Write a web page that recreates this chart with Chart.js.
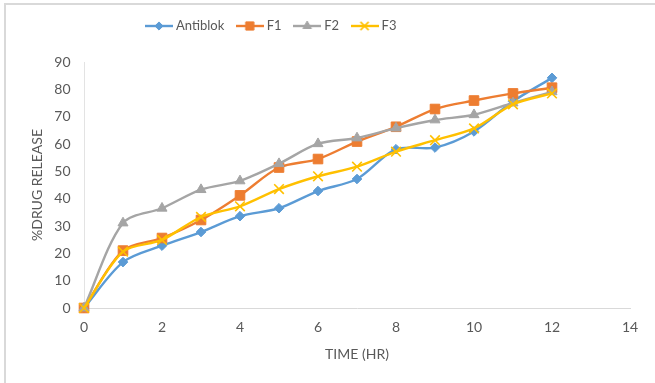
<!DOCTYPE html>
<html>
<head>
<meta charset="utf-8">
<script src="https://cdn.jsdelivr.net/npm/chart.js@4/dist/chart.umd.min.js"></script>
<style>
  html, body { margin: 0; padding: 0; background: #fff; overflow: hidden; }
  #frame { position: absolute; left: 4px; top: 3px; width: 700px; height: 420px;
           border-left: 2px solid #D9D9D9; border-top: 2px solid #D9D9D9; }
  #wrap { position: absolute; left: 0; top: 0; width: 655px; height: 383px; }
</style>
</head>
<body>
<div id="frame"></div>
<div id="wrap"><canvas id="c" width="655" height="383"></canvas></div>
<script>
// Time points (hours) and cumulative drug release (%) for each formulation
const hours    = [0, 1, 2, 3, 4, 5, 6, 7, 8, 9, 10, 11, 12];
const antiblok = [0, 16.8, 22.8, 27.8, 33.6, 36.5, 42.8, 47.2, 58.1, 58.7, 64.6, 75.6, 84.2];
const f1       = [0, 21.0, 25.6, 32.2, 41.2, 51.4, 54.5, 60.9, 66.3, 72.8, 75.9, 78.5, 80.6];
const f2       = [0, 31.1, 36.5, 43.3, 46.5, 52.8, 60.1, 62.2, 65.8, 68.8, 70.7, 75.0, 79.1];
const f3       = [0, 20.6, 24.9, 33.3, 37.2, 43.5, 48.2, 51.7, 57.2, 61.4, 65.7, 74.5, 78.5];

const seriesNames = ['Antiblok', 'F1', 'F2', 'F3'];
const xTicks = [0, 2, 4, 6, 8, 10, 12, 14];
const yTicks = [0, 10, 20, 30, 40, 50, 60, 70, 80, 90];

const colors = ['#5B9BD5', '#ED7D31', '#A5A5A5', '#FFC000'];
const styles = [
  { pointStyle: 'rectRot',  radius: 4.8, borderWidth: 1 },
  { pointStyle: 'rect',     radius: 6.8, borderWidth: 1 },
  { pointStyle: 'triangle', radius: 5.8, borderWidth: 1 },
  { pointStyle: 'crossRot', radius: 6.8, borderWidth: 1.6 }
];
const values = [antiblok, f1, f2, f3];

const FONT = "Lato, 'Open Sans', sans-serif";
const TEXT = '#595959';

// Small line-with-marker swatches for the legend
function swatch(color, st) {
  const c = document.createElement('canvas');
  c.width = 28; c.height = 14;
  const ctx = c.getContext('2d');
  ctx.strokeStyle = color;
  ctx.lineWidth = 2.4;
  ctx.beginPath(); ctx.moveTo(0, 7); ctx.lineTo(28, 7); ctx.stroke();
  ctx.fillStyle = color;
  ctx.lineWidth = st.borderWidth;
  Chart.helpers.drawPoint(ctx, { pointStyle: st.pointStyle, radius: st.radius * 0.85,
                                 borderWidth: st.borderWidth, rotation: 0 }, 14, 7);
  return c;
}
const swatches = colors.map((c, i) => swatch(c, styles[i]));

const datasets = seriesNames.map((name, i) => ({
  label: name,
  data: hours.map((h, k) => ({ x: h, y: values[i][k] })),
  borderColor: colors[i],
  backgroundColor: colors[i],
  borderWidth: 2.4,
  tension: 0.3,
  pointStyle: styles[i].pointStyle,
  pointRadius: styles[i].radius,
  pointHoverRadius: styles[i].radius,
  pointBorderWidth: styles[i].borderWidth,
  pointBorderColor: colors[i],
  pointBackgroundColor: colors[i],
  order: seriesNames.length - i,
  clip: false
}));

// Legend band height and horizontal start
const LEGEND_BAND = 57.5;
const LEGEND_LEFT = 133.5;
const legendBand = {
  id: 'legendBand',
  beforeUpdate(chart) {
    const lg = chart.legend;
    if (lg && !lg.__band) {
      const fit = lg.fit;
      lg.fit = function () { fit.call(this); this.height = LEGEND_BAND; };
      lg.__band = true;
    }
  },
  afterLayout(chart) {
    if (chart.legend) chart.legend.left = LEGEND_LEFT;
  }
};

new Chart(document.getElementById('c'), {
  type: 'line',
  data: { datasets },
  plugins: [legendBand],
  options: {
    responsive: false,
    animation: false,
    events: [],
    layout: { padding: { top: 4.5, left: 5, right: 25, bottom: 0 } },
    plugins: {
      tooltip: { enabled: false },
      legend: {
        position: 'top',
        align: 'start',
        labels: {
          usePointStyle: true,
          pointStyleWidth: 21,
          padding: 15,
          font: { family: FONT, size: 13 },
          color: TEXT,
          generateLabels(chart) {
            return chart.data.datasets.map((ds, i) => ({
              text: ds.label,
              datasetIndex: i,
              pointStyle: swatches[i],
              fillStyle: ds.borderColor,
              strokeStyle: ds.borderColor,
              lineWidth: 0,
              fontColor: TEXT,
              hidden: !chart.isDatasetVisible(i)
            }));
          }
        }
      }
    },
    scales: {
      x: {
        type: 'linear',
        min: xTicks[0],
        max: xTicks[xTicks.length - 1],
        afterBuildTicks(scale) { scale.ticks = xTicks.map(v => ({ value: v })); },
        afterFit(scale) { scale.height = 75; },
        grid: { display: false, drawTicks: false },
        border: { display: true, color: '#D9D9D9', width: 1 },
        ticks: { padding: 11.5, color: TEXT, font: { family: FONT, size: 14 } },
        title: { display: true, text: 'TIME (HR)', color: TEXT,
                 font: { family: FONT, size: 14 }, padding: { top: 0, bottom: 20.5 } }
      },
      y: {
        type: 'linear',
        min: yTicks[0],
        max: yTicks[yTicks.length - 1],
        afterBuildTicks(scale) { scale.ticks = yTicks.map(v => ({ value: v })); },
        afterFit(scale) { scale.width = 79; },
        grid: { display: false, drawTicks: false },
        border: { display: true, color: '#E3E3E3', width: 1 },
        ticks: { padding: 13.5, color: TEXT, font: { family: FONT, size: 14 } },
        title: { display: true, text: '%DRUG RELEASE', color: TEXT,
                 font: { family: FONT, size: 14 }, padding: { top: 24.5, bottom: 0 } }
      }
    }
  }
});
</script>
</body>
</html>
